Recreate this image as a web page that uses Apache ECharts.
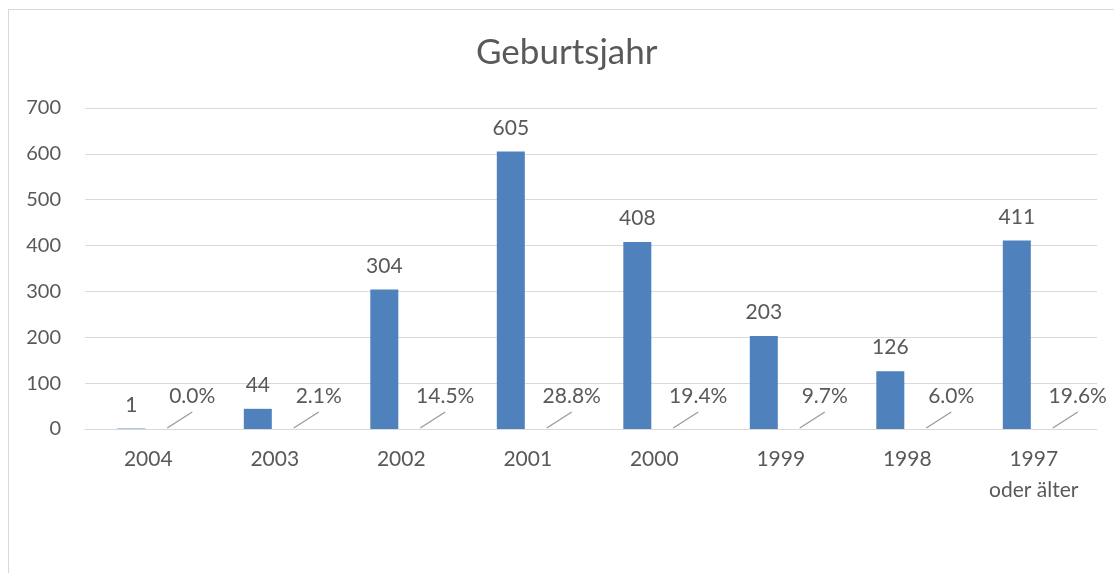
<!DOCTYPE html>
<html>
<head>
<meta charset="utf-8">
<script src="https://cdn.jsdelivr.net/npm/echarts@6/dist/echarts.min.js"></script>
<style>
	html, body { margin: 0; padding: 0; background: #fff; }
	#frame { position: absolute; left: 8px; top: 9px; right: -2px; bottom: -2px; border: 1px solid #d9d9d9; }
	#main { position: absolute; left: 0; top: 0; width: 1114px; height: 573px; }
</style>
</head>
<body>
<div id="frame"></div>
<div id="main"></div>
<script>
const years = ['2004', '2003', '2002', '2001', '2000', '1999', '1998', '1997\noder älter']
const counts = [1, 44, 304, 605, 408, 203, 126, 411]
const shares = [0.0, 2.1, 14.5, 28.8, 19.4, 9.7, 6.0, 19.6]
const yTicks = [0, 100, 200, 300, 400, 500, 600, 700]

const font = 'Lato, "Open Sans", sans-serif'
const grey = '#595959'

// Anteil-Beschriftung mit Fuehrungslinie (wie in Excel)
const shareLabel = (params, api) => {
	const base = api.coord([api.value(0), 0])
	const x = base[0], y = base[1]
	return {
		type: 'group',
		children: [
			{
				type: 'line',
				shape: { x1: x + 19, y1: y - 1, x2: x + 44, y2: y - 17 },
				style: { stroke: '#9a9a9a', lineWidth: 1.2 }
			},
			{
				type: 'text',
				x: x + 44,
				y: y - 33,
				style: {
					text: api.value(1).toFixed(1) + '%',
					fill: grey,
					font: '21px ' + font,
					align: 'center',
					verticalAlign: 'middle'
				}
			}
		]
	}
}

const chart = echarts.init(document.getElementById('main'))
chart.setOption({
	animation: false,
	title: {
		text: 'Geburtsjahr',
		left: 471,
		top: 30,
		textStyle: { fontFamily: font, fontSize: 35, fontWeight: 'normal', color: grey }
	},
	grid: { left: 85, right: 17, top: 108, bottom: 144 },
	xAxis: {
		type: 'category',
		data: years,
		axisLine: { lineStyle: { color: '#d9d9d9' } },
		axisTick: { show: false },
		axisLabel: { fontFamily: font, fontSize: 21, color: grey, lineHeight: 31, margin: 15, interval: 0 }
	},
	yAxis: {
		type: 'value',
		min: yTicks[0],
		max: yTicks[yTicks.length - 1],
		interval: 100,
		axisLine: { show: false },
		axisTick: { show: false },
		splitLine: { lineStyle: { color: '#d9d9d9' } },
		axisLabel: { fontFamily: font, fontSize: 20, color: grey, margin: 24 }
	},
	series: [
		{
			name: 'Anzahl',
			type: 'bar',
			data: counts,
			barWidth: 28,
			barGap: '21%',
			itemStyle: { color: '#4f81bd' },
			label: {
				show: true,
				position: 'top',
				distance: 13,
				fontFamily: font,
				fontSize: 21,
				color: grey
			}
		},
		{
			name: 'Anteil',
			type: 'bar',
			data: shares.map(v => v / 100),
			barWidth: 28,
			silent: true,
			itemStyle: { color: 'rgba(0,0,0,0)' }
		},
		{
			name: 'Anteil-Label',
			type: 'custom',
			data: shares.map((v, i) => [i, v]),
			renderItem: shareLabel,
			silent: true,
			z: 5
		}
	]
})
</script>
</body>
</html>
